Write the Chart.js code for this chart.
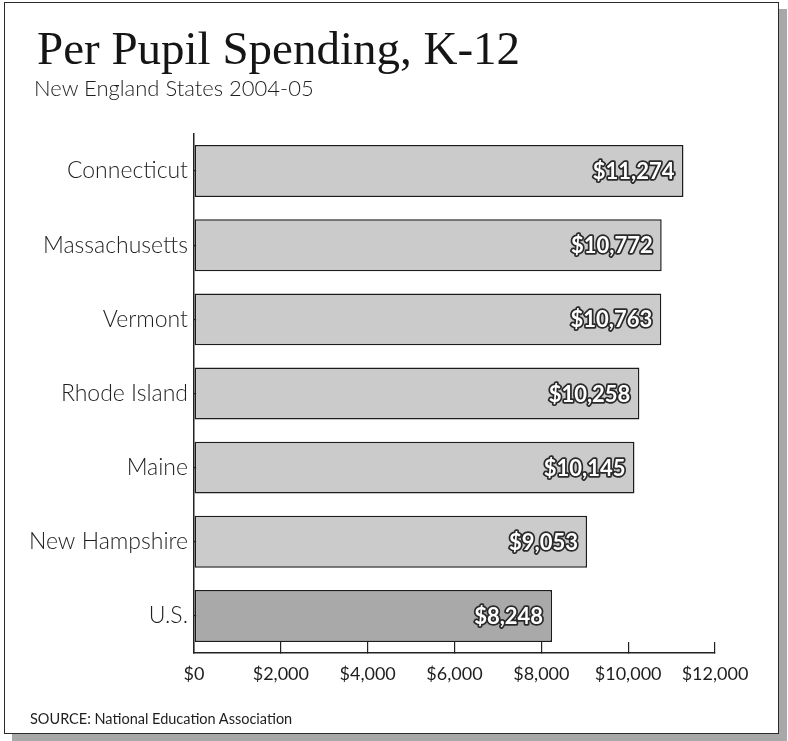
<!DOCTYPE html>
<html>
<head>
<meta charset="utf-8">
<script src="https://cdn.jsdelivr.net/npm/chart.js@4.4.1/dist/chart.umd.min.js"></script>
<style>
  html, body { margin: 0; padding: 0; background: #fff; }
  body { width: 788px; height: 741px; position: relative; overflow: hidden; }
  #frame {
    position: absolute; left: 4px; top: 2px; width: 775px; height: 732px;
    box-sizing: border-box; border: 1.5px solid #2a2a2a; background: #fff;
    box-shadow: 8px 7px 0 #a8a8a8;
  }
  #c { position: absolute; left: 0; top: 0; }
  .txt { position: absolute; white-space: nowrap; line-height: 1; }
  #title { left: 37px; top: 24.6px; font-family: "Liberation Serif", "DejaVu Serif", serif; font-size: 47px; color: #151515; }
  #subtitle { left: 34px; top: 76.5px; font-family: Lato, "Open Sans", sans-serif; font-weight: 300; font-size: 22px; color: #1e1e1e; }
  #source {
    left: 30px; top: 710px; line-height: 18px;
    font-family: Lato, "Open Sans", sans-serif; font-size: 14.5px; color: #1e1e1e;
  }
</style>
</head>
<body>
<div id="frame"></div>
<canvas id="c" width="788" height="741"></canvas>
<div id="title" class="txt"></div>
<div id="subtitle" class="txt"></div>
<div id="source" class="txt"></div>
<script>
// ---- data ----
const categories = ["Connecticut", "Massachusetts", "Vermont", "Rhode Island", "Maine", "New Hampshire", "U.S."];
const spending = [11274, 10772, 10763, 10258, 10145, 9053, 8248];
const xTicks = [0, 2000, 4000, 6000, 8000, 10000, 12000];
const titleText = "Per Pupil Spending, K-12";
const subtitleText = "New England States 2004-05";
const sourceText = "SOURCE: National Education Association";

document.getElementById("title").textContent = titleText;
document.getElementById("subtitle").textContent = subtitleText;
document.getElementById("source").textContent = sourceText;

const money = v => "$" + Number(v).toLocaleString("en-US");

const barColors = categories.map(c => c === "U.S." ? "#a9a9a9" : "#cbcbcb");

const valueLabels = {
  id: "valueLabels",
  afterDatasetsDraw(chart) {
    const ctx = chart.ctx;
    const meta = chart.getDatasetMeta(0);
    ctx.save();
    ctx.font = "bold 22px Lato, 'Open Sans', sans-serif";
    ctx.textAlign = "right";
    ctx.textBaseline = "middle";
    ctx.lineJoin = "round";
    ctx.lineWidth = 3.5;
    ctx.strokeStyle = "#2a2a2a";
    ctx.fillStyle = "#ffffff";
    meta.data.forEach((bar, i) => {
      const t = money(chart.data.datasets[0].data[i]);
      ctx.strokeText(t, bar.x - 9, bar.y + 1);
      ctx.fillText(t, bar.x - 9, bar.y + 1);
    });
    ctx.restore();
  }
};

new Chart(document.getElementById("c"), {
  type: "bar",
  data: {
    labels: categories,
    datasets: [{
      data: spending,
      backgroundColor: barColors,
      borderColor: "#1c1c1c",
      borderWidth: 1.5,
      borderSkipped: false,
      barPercentage: 0.70,
      categoryPercentage: 1.0
    }]
  },
  options: {
    indexAxis: "y",
    responsive: false,
    animation: false,
    devicePixelRatio: 1,
    layout: { padding: { left: 10, right: 73, top: 134, bottom: 35.4 } },
    plugins: {
      legend: { display: false },
      tooltip: { enabled: false },
      title: { display: false },
      subtitle: { display: false }
    },
    scales: {
      x: {
        type: "linear", min: 0, max: 12000,
        afterBuildTicks(scale) { scale.ticks = xTicks.map(v => ({ value: v })); },
        ticks: {
          callback: v => money(v), color: "#1e1e1e", padding: 21, maxRotation: 0, autoSkip: false,
          font: { family: "Lato, 'Open Sans', sans-serif", size: 18 }
        },
        grid: { drawOnChartArea: false, drawTicks: true, tickLength: -11, color: "#222", lineWidth: 1.2 },
        border: { display: true, color: "#222", width: 1.5 }
      },
      y: {
        afterFit(scale) { scale.width = 184; },
        ticks: {
          color: "#1e1e1e", padding: 12,
          font: { family: "Lato, 'Open Sans', sans-serif", size: 23, weight: 300 }
        },
        grid: { drawOnChartArea: false, drawTicks: true, tickLength: -6, offset: false, color: "#222", lineWidth: 1.2 },
        border: { display: true, color: "#222", width: 1.5 }
      }
    }
  },
  plugins: [valueLabels]
});
</script>
</body>
</html>
